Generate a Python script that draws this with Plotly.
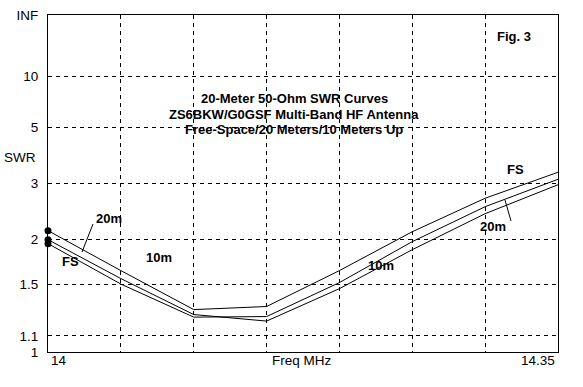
import plotly.graph_objects as go

# ---- data ----
freq_mhz = [14.00, 14.05, 14.10, 14.15, 14.20, 14.25, 14.30, 14.35]
swr_fs = [2.125, 1.637, 1.288, 1.312, 1.637, 2.11, 2.678, 3.286]
swr_10m = [2.00, 1.557, 1.25, 1.202, 1.463, 1.872, 2.392, 2.971]
swr_20m = [1.948, 1.505, 1.231, 1.235, 1.519, 1.974, 2.516, 3.103]

swr_ticks = [1, 1.1, 1.5, 2, 3, 5, 10, float("inf")]
swr_tick_labels = ["1", "1.1", "1.5", "2", "3", "5", "10", "INF"]
x_grid = [14.05, 14.10, 14.15, 14.20, 14.25, 14.30]

title_lines = ["20-Meter 50-Ohm SWR Curves",
               "ZS6BKW/G0GSF Multi-Band HF Antenna",
               "Free-Space/20 Meters/10 Meters Up"]


def rho(s):
    # SWR scale drawn as reflection coefficient
    if s == float("inf"):
        return 1.0
    return (s - 1.0) / (s + 1.0)


FONT = "Liberation Sans, Arial, sans-serif"
W, H = 583, 387
L, R, T, B = 48, 25, 15, 35
PW, PH = W - L - R, H - T - B


def px(xp):
    return (xp - L) / PW


def py(yp):
    return (H - B - yp) / PH


fig = go.Figure()
for s in (swr_fs, swr_10m, swr_20m):
    fig.add_trace(go.Scatter(x=freq_mhz, y=[rho(v) for v in s], mode="lines",
                             line=dict(color="black", width=1),
                             showlegend=False, hoverinfo="skip"))

fig.add_trace(go.Scatter(x=[freq_mhz[0]] * 3,
                         y=[rho(swr_fs[0]), rho(swr_10m[0]), rho(swr_20m[0])],
                         mode="markers", marker=dict(color="black", size=7),
                         cliponaxis=False, showlegend=False, hoverinfo="skip"))

ann = []
for i, t in enumerate(title_lines):
    ann.append(dict(x=px(294), y=py(89 + 15.5 * i), xref="paper", yref="paper",
                    text="<b>%s</b>" % t, showarrow=False,
                    font=dict(family=FONT, size=13, color="black")))

labels = [("Fig. 3", 533, 27), ("20m", 94, 218), ("FS", 60, 271), ("10m", 144, 267),
          ("FS", 526, 169), ("20m", 508, 226), ("10m", 396, 275)]
for t, x, y in labels:
    ann.append(dict(x=px(x), y=py(y), xref="paper", yref="paper", text="<b>%s</b>" % t,
                    showarrow=False, font=dict(family=FONT, size=13, color="black")))

plain = [("SWR", 20, 157, "center"), ("14", 49, 370, "left"),
         ("Freq MHz", 302, 370, "center"), ("14.35", 557, 370, "right")]
for t, x, y, a in plain:
    ann.append(dict(x=px(x), y=py(y), xref="paper", yref="paper", text=t,
                    xanchor=a, showarrow=False,
                    font=dict(family=FONT, size=13.5, color="black")))

shapes = [
    dict(type="line", xref="paper", yref="paper", x0=px(93), y0=py(224), x1=px(82), y1=py(252),
         line=dict(color="black", width=1)),
    dict(type="line", xref="paper", yref="paper", x0=px(505), y0=py(200), x1=px(511), y1=py(221),
         line=dict(color="black", width=1)),
]

fig.update_layout(
    width=W, height=H, margin=dict(l=L, r=R, t=T, b=B, autoexpand=False),
    paper_bgcolor="white", plot_bgcolor="white",
    annotations=ann, shapes=shapes,
    font=dict(family=FONT, size=12, color="black"),
)
fig.update_xaxes(range=[14.0, 14.35], tickvals=x_grid, showticklabels=False, ticks="",
                 automargin=False,
                 showgrid=True, gridcolor="black", gridwidth=1, griddash="4px,4px",
                 showline=True, linecolor="black", linewidth=1, mirror=True, zeroline=False)
fig.update_yaxes(range=[0, 1], tickvals=[rho(v) for v in swr_ticks], ticktext=swr_tick_labels,
                 ticks="", ticklabelstandoff=6, automargin=False,
                 tickfont=dict(family=FONT, size=13.5, color="black"),
                 showgrid=True, gridcolor="black", gridwidth=1, griddash="4px,4px",
                 showline=True, linecolor="black", linewidth=1, mirror=True, zeroline=False)

fig.write_html("out.html", config={"displayModeBar": False},
               post_script="document.body.style.margin='0';")
